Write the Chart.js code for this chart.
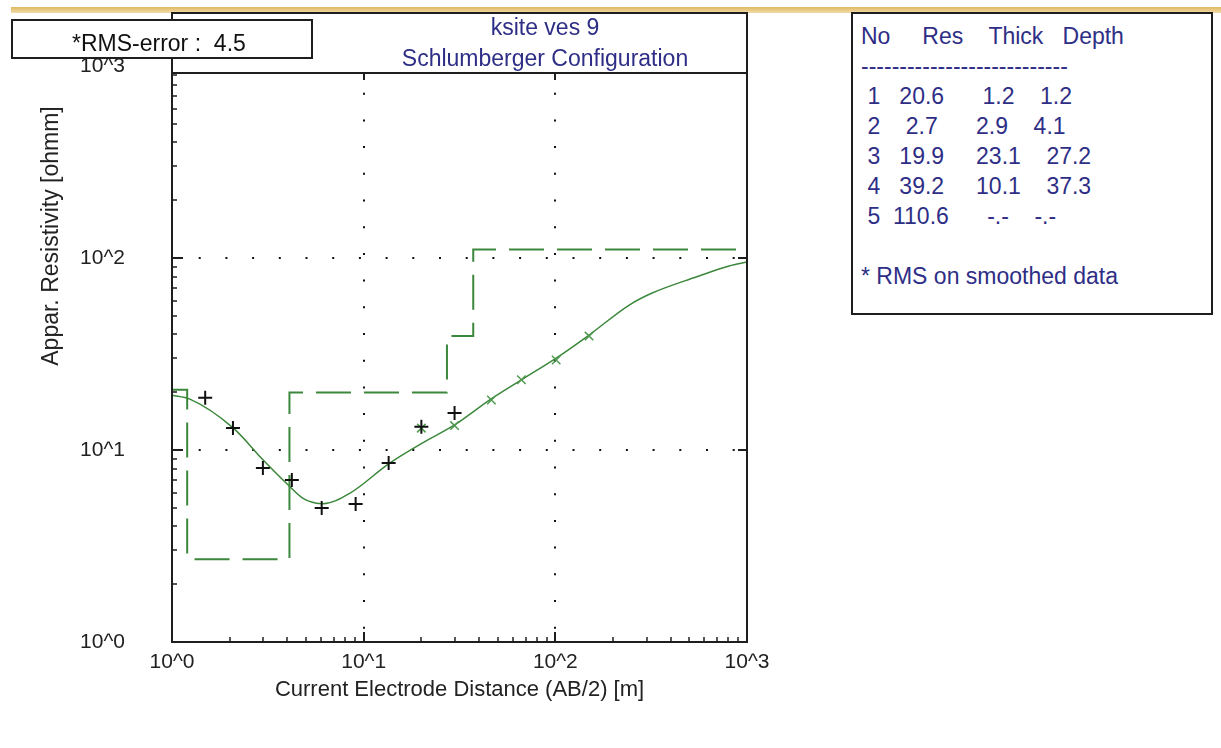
<!DOCTYPE html>
<html>
<head>
<meta charset="utf-8">
<title>ksite ves 9</title>
<script src="https://cdn.jsdelivr.net/npm/chart.js@4.4.1/dist/chart.umd.min.js"></script>
<style>
  body { margin: 0; background: #fff; }
  #wrap { position: relative; width: 1221px; height: 748px; overflow: hidden;
          font-family: "Liberation Sans", Arial, sans-serif; }
  #c { position: absolute; left: 0; top: 0; }
  .band { position: absolute; left: 11px; top: 7px; width: 1210px; height: 6px;
          background: linear-gradient(to bottom, #dfb861, #f1dcaa); }
  .box { position: absolute; box-sizing: border-box; border: 2px solid #1e1e1e; background: #fff; }
  #head { left: 171px; top: 12px; width: 577px; height: 62px; }
  #rms { left: 11px; top: 19px; width: 302px; height: 40px; }
  #layers { left: 851px; top: 12px; width: 362px; height: 303px; }
  .txt { position: absolute; white-space: pre; font-size: 23px; line-height: 30px; }
  .navy { color: #2e2e86; }
  #ytitle { position: absolute; left: -100px; top: 223px; width: 300px; line-height: 26px;
            text-align: center; font-size: 23px; color: #222; transform: rotate(-90deg); }
</style>
</head>
<body>
<div id="wrap">
  <canvas id="c" width="1221" height="748"></canvas>
  <div class="band"></div>
  <div class="box" id="head"></div>
  <div class="txt navy" style="left:345px; top:12px; width:400px; text-align:center;">ksite ves 9</div>
  <div class="txt navy" style="left:345px; top:43px; width:400px; text-align:center;">Schlumberger Configuration</div>
  <div class="box" id="rms"></div>
  <div class="txt" id="rmsText" style="left:72px; top:28px; color:#111;"></div>
  <div class="box" id="layers"></div>
  <div class="txt navy" id="layerText" style="left:861px; top:21px;"></div>
  <div id="ytitle">Appar. Resistivity [ohmm]</div>
</div>
<script>
// layered model result
const layerNo = ['1', '2', '3', '4', '5'];
const layerRes = ['20.6', '2.7', '19.9', '39.2', '110.6'];
const layerThick = ['1.2', '2.9', '23.1', '10.1', '-.-'];
const layerDepth = ['1.2', '4.1', '27.2', '37.3', '-.-'];
const rmsError = '4.5';

// field sounding (AB/2 in m, apparent resistivity in ohmm)
const fieldX = [1.49, 2.08, 2.98, 4.22, 6.04, 9.08, 13.5, 20.0, 29.8];
const fieldY = [18.7, 13.0, 8.06, 6.98, 4.99, 5.23, 8.56, 13.2, 15.6];

// smoothed readings
const smoothX = [20.0, 29.8, 46.4, 66.5, 101, 150];
const smoothY = [13.0, 13.4, 18.2, 23.2, 29.4, 39.2];

// calculated curve of the model
const fitX = [1.0, 1.24, 2.09, 2.99, 4.04, 4.83, 5.67, 6.14, 8.46, 13.6, 20.0, 29.8, 45.3,
              66.5, 101, 150, 243, 320, 542, 806, 1000];
const fitY = [19.3, 18.4, 13.0, 8.87, 6.57, 5.6, 5.28, 5.25, 5.95, 8.52, 10.8, 13.5, 18.2,
              23.2, 30.1, 39.7, 56.9, 65.7, 79.6, 90.9, 95.3];

const tickValues = [1, 10, 100, 1000];
const xTickLabels = ['10^0', '10^1', '10^2', '10^3'];
const yTickLabels = ['10^0', '10^1', '10^2', '10^3'];

// model as step line: each layer starts at the depth of the one above
const modelPts = [{x: 1, y: +layerRes[0]}];
for (let i = 1; i < layerRes.length; i++) {
  modelPts.push({x: +layerDepth[i - 1], y: +layerRes[i]});
}
modelPts.push({x: 1000, y: +layerRes[layerRes.length - 1]});

// text boxes
document.getElementById('rmsText').textContent = '*RMS-error :  ' + rmsError;
const lines = ['No     Res    Thick   Depth', '---------------------------'];
for (let i = 0; i < layerNo.length; i++) {
  lines.push(' ' + layerNo[i] + '  ' + layerRes[i].padStart(5) + '    ' +
             layerThick[i].padStart(5) + '    ' + layerDepth[i]);
}
lines.push('', '* RMS on smoothed data');
document.getElementById('layerText').textContent = lines.join('\n');

const green = '#3b873b';
const ink = '#1e1e1e';

// frame and inner tick marks
const framePlugin = {
  id: 'frame',
  afterDraw(chart) {
    const {ctx, chartArea: a, scales: {x, y}} = chart;
    ctx.save();
    ctx.strokeStyle = ink;
    ctx.lineWidth = 1.5;
    ctx.beginPath();
    [1, 10, 100].forEach(d => {
      for (let m = 2; m <= 9; m++) {
        const px = Math.round(x.getPixelForValue(d * m));
        ctx.moveTo(px, a.bottom);
        ctx.lineTo(px, a.bottom - 5);
        const py = Math.round(y.getPixelForValue(d * m));
        ctx.moveTo(a.left, py);
        ctx.lineTo(a.left + 5, py);
      }
    });
    ctx.stroke();
    ctx.lineWidth = 2;
    ctx.beginPath();
    [10, 100].forEach(v => {
      const px = Math.round(x.getPixelForValue(v));
      ctx.moveTo(px, a.bottom);
      ctx.lineTo(px, a.bottom - 10);
      ctx.moveTo(px, a.top);
      ctx.lineTo(px, a.top + 14);
      const py = Math.round(y.getPixelForValue(v));
      ctx.moveTo(a.left, py);
      ctx.lineTo(a.left + 11, py);
      ctx.moveTo(a.right, py);
      ctx.lineTo(a.right - 9, py);
    });
    ctx.stroke();
    ctx.beginPath();
    ctx.moveTo(a.left, a.top);
    ctx.lineTo(a.left, a.bottom);
    ctx.lineTo(a.right, a.bottom);
    ctx.lineTo(a.right, a.top);
    ctx.stroke();
    ctx.restore();
  }
};

const gridColor = c => (c.tick && (c.tick.value === 10 || c.tick.value === 100)) ? '#111' : 'rgba(0,0,0,0)';

Chart.defaults.font.family = '"Liberation Sans", Arial, sans-serif';
Chart.defaults.color = '#222';

new Chart(document.getElementById('c'), {
  type: 'scatter',
  data: {
    datasets: [
      {
        label: 'field',
        data: fieldX.map((v, i) => ({x: v, y: fieldY[i]})),
        pointStyle: 'cross',
        pointRadius: 7,
        borderWidth: 2,
        borderColor: '#111',
        showLine: false
      },
      {
        label: 'smoothed',
        data: smoothX.map((v, i) => ({x: v, y: smoothY[i]})),
        pointStyle: 'crossRot',
        pointRadius: 6,
        borderWidth: 1.5,
        borderColor: '#4f9a4f',
        showLine: false
      },
      {
        label: 'calculated',
        data: fitX.map((v, i) => ({x: v, y: fitY[i]})),
        showLine: true,
        pointRadius: 0,
        borderColor: green,
        borderWidth: 1.5,
        cubicInterpolationMode: 'monotone'
      },
      {
        label: 'model',
        data: modelPts,
        showLine: true,
        stepped: 'before',
        pointRadius: 0,
        borderColor: green,
        borderWidth: 2,
        borderDash: [35, 13]
      }
    ]
  },
  options: {
    responsive: false,
    animation: false,
    layout: { padding: { left: 0, top: 66, right: 474, bottom: 0 } },
    plugins: { legend: { display: false }, tooltip: { enabled: false } },
    scales: {
      x: {
        type: 'logarithmic',
        min: 1,
        max: 1000,
        afterBuildTicks: s => { s.ticks = tickValues.map(v => ({value: v})); },
        afterFit: s => { s.height = 106; },
        ticks: {
          autoSkip: false,
          maxRotation: 0,
          padding: 8,
          font: { size: 21 },
          callback: (v, i) => xTickLabels[i]
        },
        grid: { color: gridColor, lineWidth: 2, drawTicks: false },
        border: { display: false, dash: [2, 24.7] },
        title: {
          display: true,
          text: 'Current Electrode Distance (AB/2) [m]',
          font: { size: 22 },
          padding: { top: 0, bottom: 45 }
        }
      },
      y: {
        type: 'logarithmic',
        min: 1,
        max: 1000,
        afterBuildTicks: s => { s.ticks = tickValues.map(v => ({value: v})); },
        afterFit: s => { s.width = 172; },
        ticks: {
          autoSkip: false,
          padding: 47,
          font: { size: 21 },
          callback: (v, i) => yTickLabels[i]
        },
        grid: { color: gridColor, lineWidth: 2, drawTicks: false },
        border: { display: false, dash: [2, 24.7] }
      }
    }
  },
  plugins: [framePlugin]
});
</script>
</body>
</html>
